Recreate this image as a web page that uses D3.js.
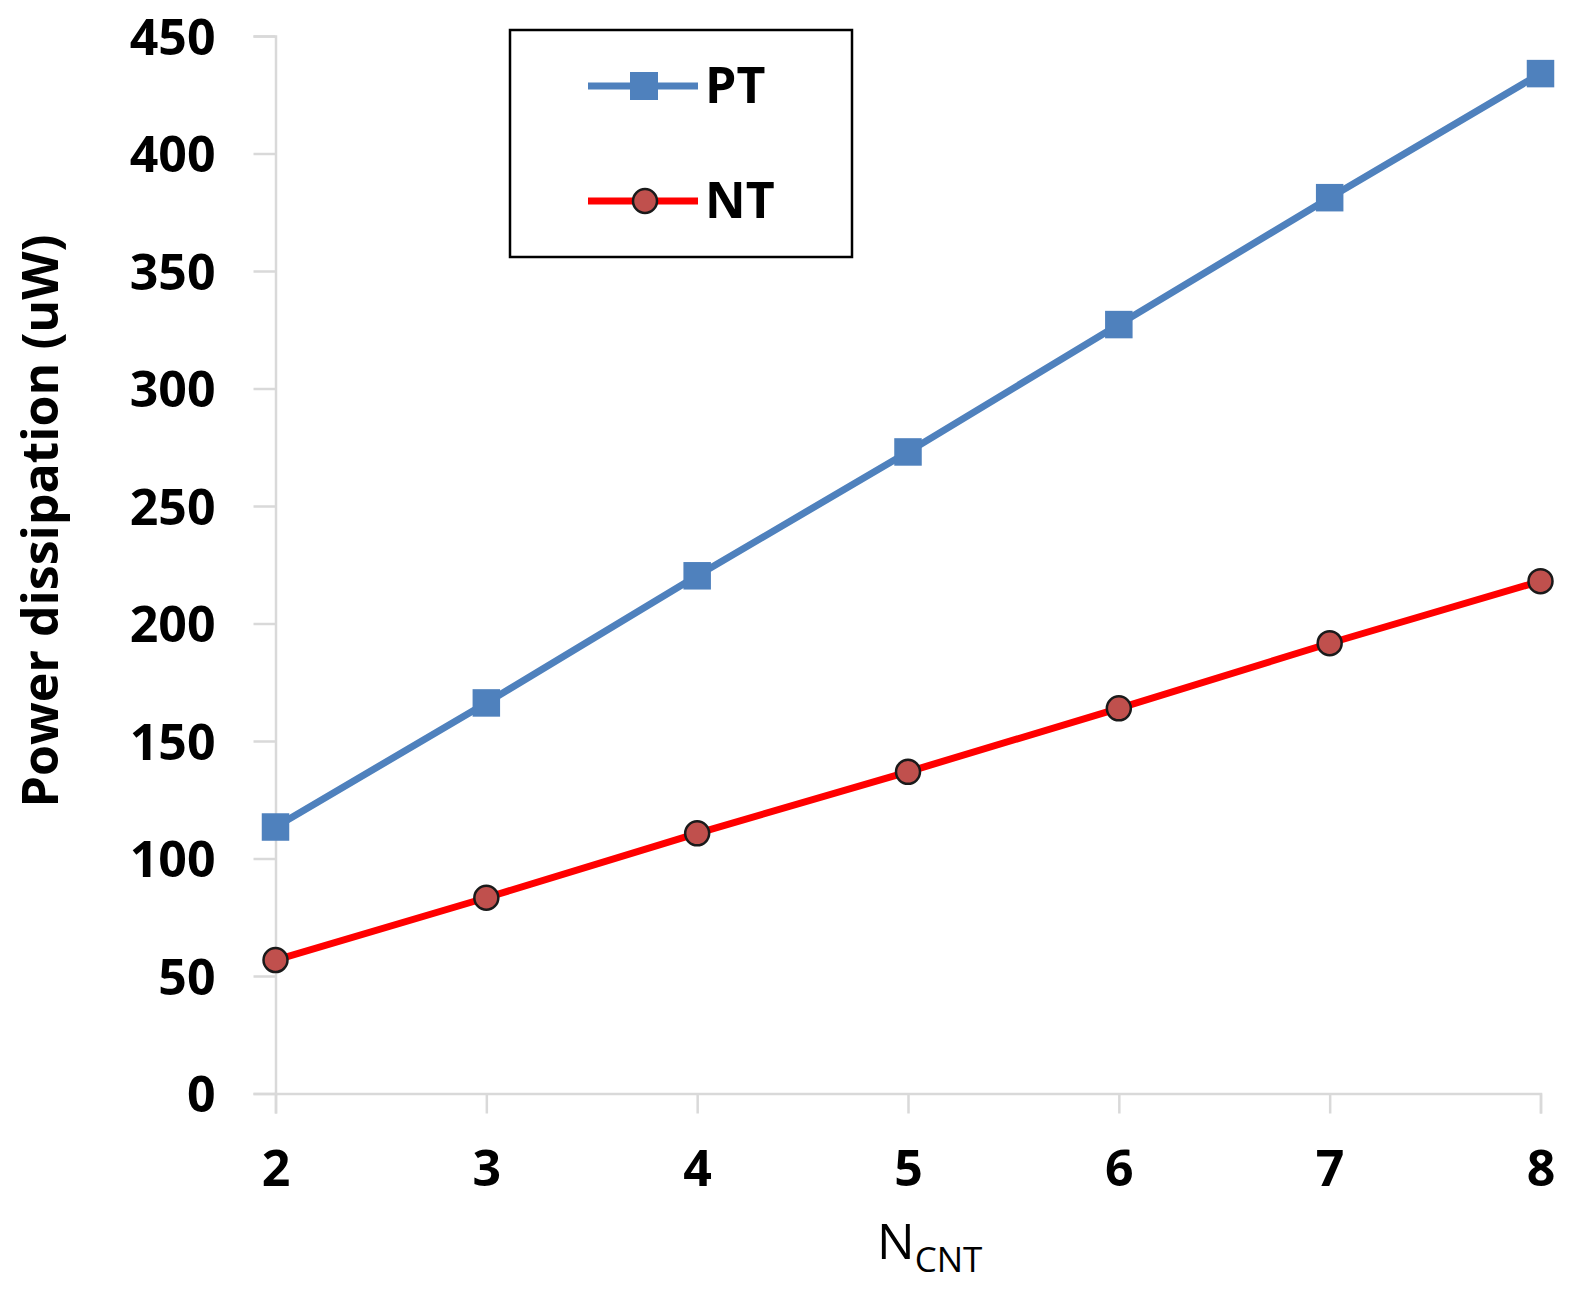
<!DOCTYPE html>
<html>
<head>
<meta charset="utf-8">
<script src="https://cdn.jsdelivr.net/npm/d3@7"></script>
<style>
  html, body { margin: 0; padding: 0; background: #fff; }
  svg { display: block; }
</style>
</head>
<body>
<svg id="chart" width="1577" height="1292"></svg>
<script>
const nCNT = [2, 3, 4, 5, 6, 7, 8];
const ptValues = [113.4, 166.2, 220.3, 273.0, 327.2, 381.2, 434.0];
const ntValues = [56.8, 83.3, 110.7, 136.9, 163.9, 191.6, 218.0];
const yTicks = [0, 50, 100, 150, 200, 250, 300, 350, 400, 450];
const seriesNames = ["PT", "NT"];

const svg = d3.select("#chart");
const x = d3.scaleLinear().domain([2, 8]).range([275.5, 1540.5]);
const y = d3.scaleLinear().domain([0, 450]).range([1093.5, 36]);

const axisColor = "#d9d9d9";
const fontFam = "'Open Sans', 'DejaVu Sans', sans-serif";

// Y axis
const yAxis = svg.append("g").attr("transform", "translate(275.5,0)")
  .call(d3.axisLeft(y).tickValues(yTicks).tickSize(22).tickPadding(38).tickFormat(d3.format("d")));
yAxis.select(".domain").attr("stroke", axisColor).attr("stroke-width", 2.5);
yAxis.selectAll(".tick line").attr("stroke", axisColor).attr("stroke-width", 2.5);
yAxis.selectAll(".tick text")
  .attr("fill", "#000").attr("font-family", fontFam).attr("font-weight", "bold")
  .attr("font-size", 50).attr("dy", "0.36em");

// X axis
const xAxis = svg.append("g").attr("transform", "translate(0,1093.5)")
  .call(d3.axisBottom(x).tickValues(nCNT).tickSize(20).tickPadding(0).tickFormat(d3.format("d")));
xAxis.select(".domain").attr("stroke", axisColor).attr("stroke-width", 2.5);
xAxis.selectAll(".tick line").attr("stroke", axisColor).attr("stroke-width", 2.5);
xAxis.selectAll(".tick text")
  .attr("fill", "#000").attr("font-family", fontFam).attr("font-weight", "bold")
  .attr("font-size", 50).attr("y", 92.5).attr("dy", 0);

// Y axis title
svg.append("text")
  .attr("transform", "translate(58,521) rotate(-90)")
  .attr("text-anchor", "middle")
  .attr("font-family", fontFam).attr("font-weight", "bold").attr("font-size", 50)
  .attr("fill", "#000")
  .text("Power dissipation (uW)");

// X axis title N_CNT
const xt = svg.append("text")
  .attr("x", 877).attr("y", 1259)
  .attr("font-family", fontFam).attr("font-size", 50).attr("fill", "#000");
xt.append("tspan").text("N");
xt.append("tspan").attr("font-size", 35).attr("dy", 13).text("CNT");

// Lines
const ptData = nCNT.map((d, i) => ({ x: d, y: ptValues[i] }));
const ntData = nCNT.map((d, i) => ({ x: d, y: ntValues[i] }));
const line = d3.line().x(d => x(d.x)).y(d => y(d.y));

svg.append("path").datum(ptData).attr("d", line)
  .attr("fill", "none").attr("stroke", "#4f81bd").attr("stroke-width", 7);
svg.append("path").datum(ntData).attr("d", line)
  .attr("fill", "none").attr("stroke", "#ff0000").attr("stroke-width", 7);

const sq = 27.5;
svg.append("g").selectAll("rect").data(ptData).join("rect")
  .attr("x", d => x(d.x) - sq / 2).attr("y", d => y(d.y) - sq / 2)
  .attr("width", sq).attr("height", sq).attr("fill", "#4f81bd");

svg.append("g").selectAll("circle").data(ntData).join("circle")
  .attr("cx", d => x(d.x)).attr("cy", d => y(d.y)).attr("r", 12)
  .attr("fill", "#c0504d").attr("stroke", "#1a1a1a").attr("stroke-width", 2.5);

// Legend
const lg = svg.append("g");
lg.append("rect").attr("x", 510).attr("y", 30).attr("width", 342).attr("height", 227)
  .attr("fill", "#fff").attr("stroke", "#000").attr("stroke-width", 2.5);
const legendRows = [
  { name: seriesNames[0], color: "#4f81bd", cy: 86, marker: "square" },
  { name: seriesNames[1], color: "#ff0000", cy: 201, marker: "circle" }
];
legendRows.forEach(r => {
  lg.append("line").attr("x1", 588).attr("x2", 698).attr("y1", r.cy).attr("y2", r.cy)
    .attr("stroke", r.color).attr("stroke-width", 7);
  if (r.marker === "square") {
    lg.append("rect").attr("x", 644 - 14).attr("y", r.cy - 14).attr("width", 28).attr("height", 28)
      .attr("fill", "#4f81bd");
  } else {
    lg.append("circle").attr("cx", 645).attr("cy", r.cy).attr("r", 12)
      .attr("fill", "#c0504d").attr("stroke", "#1a1a1a").attr("stroke-width", 2.5);
  }
  lg.append("text").attr("x", 705).attr("y", r.cy + 17)
    .attr("font-family", fontFam).attr("font-weight", "bold").attr("font-size", 50)
    .attr("fill", "#000").text(r.name);
});
</script>
</body>
</html>
